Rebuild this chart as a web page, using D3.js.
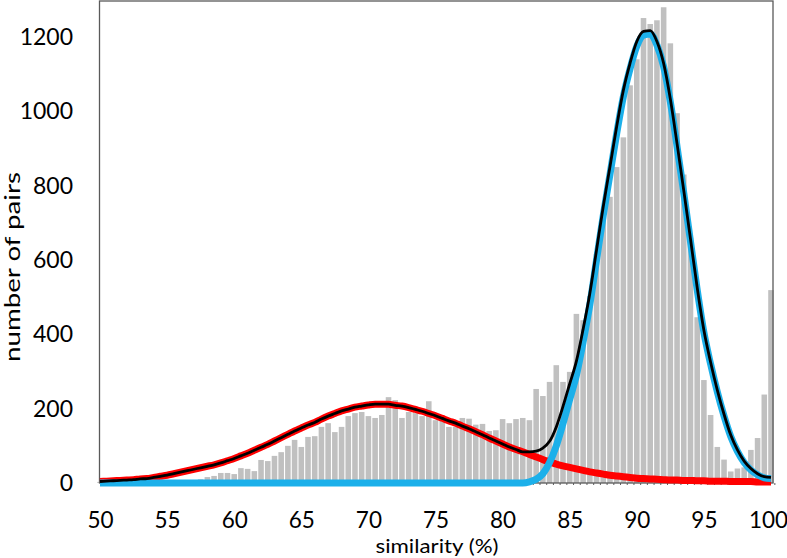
<!DOCTYPE html>
<html><head><meta charset="utf-8">
<script src="https://cdn.jsdelivr.net/npm/d3@7"></script>
<style>
html,body{margin:0;padding:0;background:#fff;}
svg text{font-family:Lato,"Open Sans",sans-serif;fill:#000;}
</style></head>
<body><svg id="c" width="787" height="558"></svg>
<script>
const categories = [50,50.5,51,51.5,52,52.5,53,53.5,54,54.5,55,55.5,56,56.5,57,57.5,58,58.5,59,59.5,
60,60.5,61,61.5,62,62.5,63,63.5,64,64.5,65,65.5,66,66.5,67,67.5,68,68.5,69,69.5,
70,70.5,71,71.5,72,72.5,73,73.5,74,74.5,75,75.5,76,76.5,77,77.5,78,78.5,79,79.5,
80,80.5,81,81.5,82,82.5,83,83.5,84,84.5,85,85.5,86,86.5,87,87.5,88,88.5,89,89.5,
90,90.5,91,91.5,92,92.5,93,93.5,94,94.5,95,95.5,96,96.5,97,97.5,98,98.5,99,99.5,100];

const counts = [3,2,3,2,4,3,3,4,5,4,5,6,5,8,7,10,16,19,27,27,
24,40,38,32,62,59,73,83,100,116,97,124,126,151,161,137,151,180,188,191,
180,175,183,231,223,175,191,188,180,220,169,167,151,151,175,173,157,159,140,142,
172,161,172,175,169,253,234,272,317,272,299,455,438,503,616,716,770,850,930,1070,
1140,1251,1235,1245,1280,1183,995,830,660,446,277,183,97,63,31,39,42,89,121,238,519];

const fitLow = [4,5,6,7,8,9,11,12,15,18,21,25,29,33,37,41,45,49,54,60,
66,73,80,88,96,104,113,122,131,140,148,156,163,172,180,187,194,199,204,207,
210,212,212,212,209,207,203,198,193,187,181,174,167,161,153,146,138,130,121,113,
105,97,90,84,77,70,63,57,51,46,42,38,34,30,27,24,21,19,17,15,
13,12,11,10,9,8,8,7,7,6,6,5,5,5,4,4,4,4,3,3,3];

const fitHigh = [0,0,0,0,0,0,0,0,0,0,0,0,0,0,0,0,0,0,0,0,
0,0,0,0,0,0,0,0,0,0,0,0,0,0,0,0,0,0,0,0,
0,0,0,0,0,0,0,0,0,0,0,0,0,0,0,0,0,0,0,0,
0,0,0,0,3,10,25,55,100,160,225,290,380,480,600,720,830,940,1040,1115,
1175,1205,1208,1178,1120,1025,905,780,650,520,405,320,245,180,125,85,55,35,22,14,12];

const fitTotal = [4,5,6,7,8,9,11,12,15,18,21,25,29,33,37,41,45,49,54,60,
66,73,80,88,96,104,113,122,131,140,148,156,163,172,180,187,194,199,204,207,
210,212,212,212,209,207,203,198,193,187,181,174,167,161,153,146,138,130,121,113,
105,97,90,84,84,86,94,112,151,206,267,328,414,510,627,744,851,959,1057,1130,
1188,1215,1217,1188,1129,1033,913,787,657,526,411,325,250,185,129,89,59,39,25,17,15];

const xTicks = [50,55,60,65,70,75,80,85,90,95,100];
const yTicks = [0,200,400,600,800,1000,1200];
const xTitle = "similarity (%)";
const yTitle = "number of pairs";

const svg = d3.select("#c");
const x = d3.scaleLinear().domain([50,100]).range([100,771]);
const y = d3.scaleLinear().domain([0,1200]).range([483,37]);
const step = x(50.5)-x(50);
const bw = step*0.83;

// bars
svg.append("g").selectAll("rect").data(categories).join("rect")
  .attr("x", (d)=>x(d)-bw/2)
  .attr("y", (d,i)=>y(counts[i]))
  .attr("width", bw)
  .attr("height", (d,i)=>y(0)-y(counts[i]))
  .attr("fill", "#c0c0c0");

// x axis small ticks at bin boundaries
const edges = categories.map(d=>d+0.25);
svg.append("g").attr("transform","translate(0,483)")
  .call(d3.axisBottom(x).tickValues(edges).tickSize(2).tickFormat(""))
  .call(g=>g.select(".domain").remove())
  .call(g=>g.selectAll("line").attr("stroke","#333").attr("stroke-width",0.8));

// frame
svg.append("rect").attr("x",99.5).attr("y",1).attr("width",673.5).attr("height",482)
  .attr("fill","none").attr("stroke","#5a5a5a").attr("stroke-width",1.3);

const line = (arr)=>d3.line().x((d,i)=>x(categories[i])).y(d=>y(d)).curve(d3.curveMonotoneX)(arr);

svg.append("path").attr("d", line(fitLow)).attr("fill","none")
  .attr("stroke","#ff0000").attr("stroke-width",7).attr("stroke-linejoin","round");
svg.append("path").attr("d", line(fitHigh)).attr("fill","none")
  .attr("stroke","#1cb0ea").attr("stroke-width",7).attr("stroke-linejoin","round");
svg.append("path").attr("d", line(fitTotal)).attr("fill","none")
  .attr("stroke","#000").attr("stroke-width",2.8).attr("stroke-linejoin","round");

// axes labels
svg.append("g").attr("transform","translate(0,483)")
  .call(d3.axisBottom(x).tickValues(xTicks).tickSize(0).tickPadding(29).tickFormat(d3.format("d")))
  .call(g=>g.select(".domain").remove())
  .call(g=>g.selectAll("text").attr("font-size",22.5).attr("dx", d => d===100 ? "-3" : "0"));

svg.append("g").attr("transform","translate(99,0)")
  .call(d3.axisLeft(y).tickValues(yTicks).tickSize(0).tickPadding(26).tickFormat(d3.format("d")))
  .call(g=>g.select(".domain").remove())
  .call(g=>g.selectAll("text").attr("font-size",23));

svg.append("text").attr("x",437).attr("y",553).attr("text-anchor","middle")
  .attr("font-size",20).attr("textLength",123).attr("lengthAdjust","spacingAndGlyphs").text(xTitle);
svg.append("text").attr("transform","translate(20,267) rotate(-90)").attr("text-anchor","middle")
  .attr("font-size",21.5).attr("textLength",190).attr("lengthAdjust","spacingAndGlyphs").text(yTitle);
</script></body></html>
